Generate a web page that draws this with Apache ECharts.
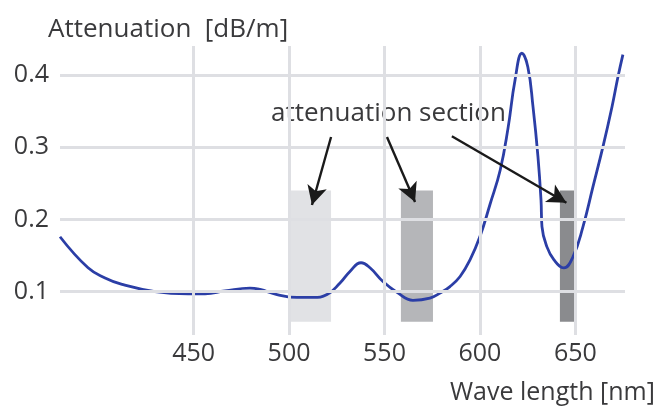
<!DOCTYPE html>
<html>
<head>
<meta charset="utf-8">
<script src="https://cdn.jsdelivr.net/npm/echarts@6/dist/echarts.min.js"></script>
<style>
  html, body { margin: 0; padding: 0; background: #fff; }
  #chart { width: 657px; height: 407px; }
</style>
</head>
<body>
<div id="chart"></div>
<script>
// wave length [nm] and attenuation [dB/m]
const wavelength = [380, 394.7, 403.6, 412.5, 429.8, 447.1, 456, 466.4, 479.5, 484.8, 493.7, 504.2, 512.5, 519.9,
  526.7, 531.9, 537.7, 542.4, 549.2, 556.6, 564.9, 573.8, 579.1, 584.3, 589.6, 594.8, 600.1, 605.3, 610.6, 614.7,
  618.4, 622, 625.1, 627.8, 630.4, 632, 632.5, 635.1, 638.8, 644, 648.7, 654, 659.2, 664.4, 669.2, 672.3, 674.9]
const attenuation = [0.176, 0.133, 0.119, 0.110, 0.100, 0.097, 0.097, 0.101, 0.105, 0.103, 0.096, 0.092, 0.092, 0.096,
  0.112, 0.128, 0.140, 0.133, 0.114, 0.099, 0.088, 0.091, 0.098, 0.107, 0.121, 0.144, 0.177, 0.221, 0.268, 0.326,
  0.393, 0.430, 0.411, 0.356, 0.287, 0.227, 0.190, 0.162, 0.144, 0.133, 0.148, 0.190, 0.245, 0.300, 0.356, 0.397, 0.428]

const xTicks = [450, 500, 550, 600, 650]
const yTicks = [0.1, 0.2, 0.3, 0.4]

// attenuation sections (shaded bands)
const sectionFrom = [500, 558.6, 641.9]
const sectionTo = [522, 575.4, 649.3]
const sectionBottom = [0.0585, 0.0585, 0.0585]
const sectionTop = [0.240, 0.240, 0.240]
const sectionColors = ['#e1e2e5', '#b5b6b9', '#8a8b8e']

// arrows from the label to each section
const arrowFromX = [522, 551.3, 585.3]
const arrowFromY = [0.314, 0.314, 0.315]
const arrowToX = [512, 566, 645.3]
const arrowToY = [0.220, 0.224, 0.223]

const chart = echarts.init(document.getElementById('chart'))
const textColor = '#3a3a3c'
const font = 'Open Sans'

chart.setOption({
  animation: false,
  grid: { left: 60, right: 32, top: 46, bottom: 72 },
  xAxis: {
    type: 'value',
    min: 380,
    max: 676,
    axisLine: { show: false },
    axisTick: { show: false },
    splitLine: { show: false },
    axisLabel: {
      customValues: xTicks,
      color: textColor,
      fontFamily: font,
      fontSize: 25,
      margin: 6
    }
  },
  yAxis: {
    type: 'value',
    min: 0.04,
    max: 0.44,
    axisLine: { show: false },
    axisTick: { show: false },
    splitLine: { show: false },
    axisLabel: {
      customValues: yTicks,
      color: textColor,
      fontFamily: font,
      fontSize: 25,
      margin: 11,
      formatter: v => v.toFixed(1)
    }
  },
  graphic: [
    { type: 'text', x: 48, y: 30, style: { text: 'Attenuation  [dB/m]', fill: textColor, font: '26px "Open Sans"', verticalAlign: 'middle' } },
    { type: 'text', x: 450, y: 393, style: { text: 'Wave length [nm]', fill: textColor, font: '25px "Open Sans"', verticalAlign: 'middle' } },
    { type: 'text', x: 271, y: 114, style: { text: 'attenuation section', fill: textColor, font: '26px "Open Sans"', verticalAlign: 'middle' } }
  ],
  series: [
    {
      // grid lines
      type: 'line',
      data: [],
      z: 0,
      silent: true,
      markLine: {
        silent: true,
        symbol: 'none',
        label: { show: false },
        lineStyle: { color: '#dedfe3', width: 3, type: 'solid' },
        data: xTicks.map(v => ({ xAxis: v })).concat(yTicks.map(v => ({ yAxis: v })))
      }
    },
    {
      // shaded sections
      type: 'line',
      data: [],
      z: 1,
      silent: true,
      markArea: {
        silent: true,
        label: { show: false },
        data: sectionFrom.map((x, i) => [
          { coord: [x, sectionBottom[i]], itemStyle: { color: sectionColors[i], opacity: 1 } },
          { coord: [sectionTo[i], sectionTop[i]] }
        ])
      }
    },
    {
      type: 'line',
      data: wavelength.map((x, i) => [x, attenuation[i]]),
      z: 3,
      smooth: 0.45,
      showSymbol: false,
      lineStyle: { color: '#2b3ea6', width: 2.8 }
    },
    {
      // arrows
      type: 'line',
      data: [],
      z: 4,
      silent: true,
      markLine: {
        silent: true,
        symbol: ['none', 'arrow'],
        symbolSize: [15, 19],
        label: { show: false },
        lineStyle: { color: '#1a1a1a', width: 2.4, type: 'solid' },
        data: arrowFromX.map((x, i) => [
          { coord: [x, arrowFromY[i]] },
          { coord: [arrowToX[i], arrowToY[i]] }
        ])
      }
    }
  ]
})
</script>
</body>
</html>
